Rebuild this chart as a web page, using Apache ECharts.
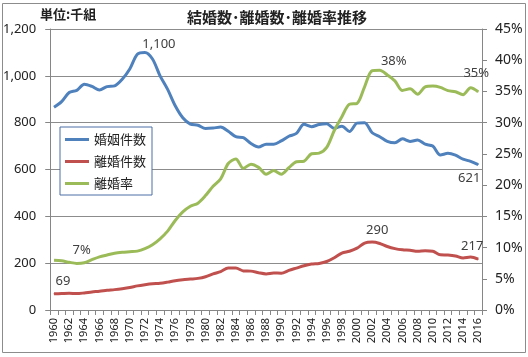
<!DOCTYPE html>
<html>
<head>
<meta charset="utf-8">
<script src="https://cdn.jsdelivr.net/npm/echarts@6/dist/echarts.min.js"></script>
<style>
html,body{margin:0;padding:0;background:#fff;}
#c{width:528px;height:357px;}
</style>
</head>
<body>
<div id="c"></div>
<script>
const years = [];
for (let y = 1960; y <= 2016; y++) years.push(String(y));

const marriages = [866,890,929,938,964,955,940,954,957,985,1029,1092,1100,1072,1000,942,872,821,794,789,775,777,781,763,740,736,711,696,708,708,722,742,754,793,783,792,795,776,785,762,798,800,757,740,720,714,731,720,726,708,700,662,669,661,644,635,621];
const divorces = [69,70,71,70,73,77,80,84,87,91,96,103,108,112,114,119,125,129,132,135,142,154,164,179,179,167,166,159,154,158,157,169,179,189,196,199,207,223,243,251,264,286,290,284,271,262,257,255,251,253,251,236,235,231,222,226,217];
const divorceRate = [7.97,7.87,7.64,7.46,7.57,8.06,8.51,8.81,9.09,9.24,9.33,9.43,9.82,10.45,11.4,12.63,14.33,15.71,16.62,17.11,18.32,19.82,21.0,23.46,24.19,22.69,23.35,22.84,21.75,22.32,21.75,22.78,23.74,23.83,25.03,25.13,26.04,28.74,30.96,32.94,33.08,35.75,38.31,38.38,37.64,36.69,35.16,35.42,34.57,35.73,35.86,35.65,35.13,34.95,34.47,35.59,34.94];

const leftTicks = [0,200,400,600,800,1000,1200];
const rightTicks = [0,5,10,15,20,25,30,35,40,45];
const seriesNames = ['婚姻件数','離婚件数','離婚率'];
const seriesColors = ['#4F81BD','#C0504D','#9BBB59'];
const titleText = '結婚数･離婚数･離婚率推移';
const unitText = '単位:千組';

const labelFont = {fontFamily:'"Noto Sans","Noto Sans CJK JP",sans-serif', fontSize:13, color:'#404040'};

function withLabels(values, labelMap, fmt) {
  return values.map((v, i) => {
    if (labelMap[i]) {
      return {value: v, symbol:'circle', symbolSize:1,
        label: Object.assign({show:true, formatter: fmt}, labelFont, labelMap[i])};
    }
    return {value: v, symbol:'none'};
  });
}

function lineSeries(idx, values, axis, labelMap, fmt) {
  return {
    name: seriesNames[idx], type:'line', yAxisIndex:axis, smooth:0.3,
    symbol:'circle', symbolSize:1, showSymbol:true,
    lineStyle:{width:3, color:seriesColors[idx]},
    itemStyle:{color:seriesColors[idx]},
    emphasis:{disabled:true},
    data: withLabels(values, labelMap, fmt),
    z:3
  };
}

const chart = echarts.init(document.getElementById('c'));
chart.setOption({
  animation: false,
  backgroundColor: '#fff',
  graphic: [
    {type:'rect', shape:{x:2.5, y:3.5, width:523, height:349}, style:{fill:'none', stroke:'#8c8c8c', lineWidth:1}, z:-1},
    {type:'text', left:40, top:8, style:{text:unitText, font:'bold 13px "Noto Sans CJK JP"', fill:'#222'}},
    {type:'text', left:187, top:10, style:{text:titleText, font:'bold 15px "Noto Sans CJK JP"', fill:'#222'}}
  ],
  grid: {left:49, right:46, top:29, bottom:47, containLabel:false},
  legend: {
    orient:'vertical', left:60, top:127,
    data: seriesNames.map((n, i) => ({name:n, icon:'rect', itemStyle:{color:seriesColors[i]}})),
    backgroundColor:'#fff', borderColor:'#4a6fa5', borderWidth:1,
    padding:[6,6,5,5], itemGap:9, itemWidth:24, itemHeight:3,
    textStyle:{fontFamily:'"Noto Sans CJK JP"', fontSize:13, color:'#222'}
  },
  xAxis: {
    type:'category', data: years, boundaryGap:true,
    axisLine:{lineStyle:{color:'#868686'}},
    axisTick:{show:true, interval:0, alignWithLabel:false, length:5, lineStyle:{color:'#868686'}},
    axisLabel:{interval:1, rotate:90, fontSize:11, color:'#222', fontFamily:'"Noto Sans",sans-serif', margin:8}
  },
  yAxis: [
    {
      type:'value', min:leftTicks[0], max:leftTicks[leftTicks.length-1], interval:200,
      axisLine:{show:true, lineStyle:{color:'#868686'}},
      axisTick:{show:true, lineStyle:{color:'#868686'}},
      splitLine:{lineStyle:{color:'#8c8c8c'}},
      axisLabel:{fontSize:13, color:'#222', fontFamily:'"Noto Sans",sans-serif', margin:14,
        formatter: v => v.toLocaleString('en-US')}
    },
    {
      type:'value', min:rightTicks[0], max:rightTicks[rightTicks.length-1], interval:5,
      axisLine:{show:true, lineStyle:{color:'#868686'}},
      axisTick:{show:true, lineStyle:{color:'#868686'}},
      splitLine:{show:false},
      axisLabel:{fontSize:14, color:'#222', fontFamily:'"Noto Sans",sans-serif', margin:13,
        formatter: '{value}%'}
    }
  ],
  series: [
    lineSeries(0, marriages, 0, {
      12:{position:'top', distance:1, offset:[14,0]},
      56:{position:'bottom', distance:7, offset:[-9,0]}
    }, p => p.value.toLocaleString('en-US')),
    lineSeries(1, divorces, 0, {
      0:{position:'top', distance:6, offset:[9,0]},
      42:{position:'top', distance:5, offset:[5,0]},
      56:{position:'top', distance:6, offset:[-6,0]}
    }, p => String(p.value)),
    lineSeries(2, divorceRate, 1, {
      3:{position:'top', distance:6, offset:[5,0]},
      43:{position:'top', distance:2, offset:[14,0]},
      56:{position:'top', distance:12, offset:[-2,0]}
    }, p => Math.round(p.value) + '%')
  ]
});
</script>
</body>
</html>
